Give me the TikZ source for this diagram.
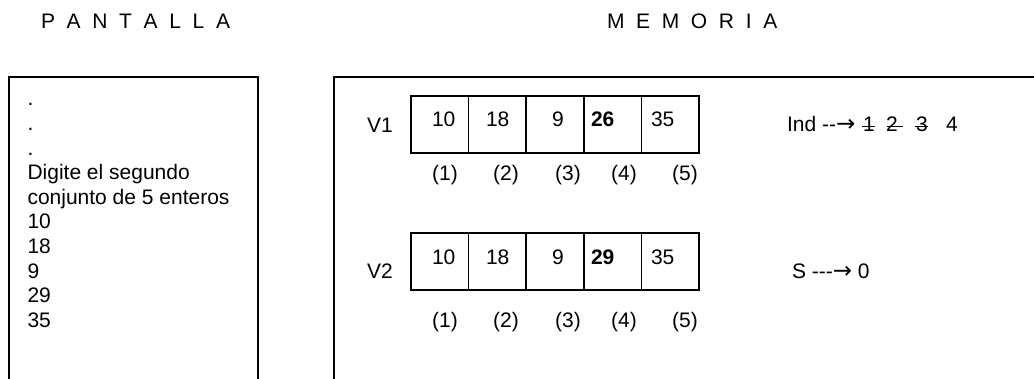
\documentclass[tikz,border=0pt]{standalone}
\usepackage{fontspec}
\newfontfamily\arial{Liberation Sans}
\newfontfamily\flechafont{DejaVu Sans}
\usepackage{tikz}
\usetikzlibrary{calc}
\newcommand{\flecha}{{\flechafont\fontsize{23}{23}\selectfont →}}

\begin{document}
\begin{tikzpicture}[
  x=1pt,y=-1pt,
  font=\arial\fontsize{21}{24.6}\selectfont,
  txt/.style={anchor=base west,inner sep=0pt,outer sep=0pt},
  idx/.style={anchor=base,inner sep=0pt},
  celda/.style={draw,line width=1.6pt,minimum width=57.6pt,minimum height=57pt,inner sep=0pt},
  marco/.style={line width=1.6pt},
  tacha/.style={line width=1.1pt}
]
\useasboundingbox (0,0) rectangle (1034,379);

% ---- titles
\node[txt] (tpan) at (41,29) {P\ \ A\ \ N\ \ T\ \ A\ \ L\ \ L\ \ A};
\node[txt] (tmem) at (607,29) {M\ \ E\ \ M\ \ O\ \ R\ \ I\ \ A};

% ---- frames
\draw[marco] (9,379) -- (9,77) -- (258,77) -- (258,379);
\draw[marco] (334,379) -- (334,77) -- (1034,77);

% ---- pantalla
\foreach \t [count=\i from 0] in {., ., ., Digite el segundo, conjunto de 5 enteros, 10, 18, 9, 29, 35}
  \node[txt] (p\i) at (27.5,{106+24.6*\i}) {\t};

% ---- memoria : vectores V1, V2
\foreach \r/\top/\lab/\vb/\base/\cuarto in {1/96/133/127/180.5/26, 2/233/279/265/327.5/29} {
  \node[txt] (v\r) at (367,\lab) {V\r};
  \foreach \i in {1,...,5}
    \node[celda] (a\r\i) at ({411+57.6*(\i-0.5)},{\top+28.5}) {};
  \foreach \x/\val [count=\i] in {432/10, 486/18, 552/9, 591/\textbf{\cuarto}, 651/35}
    \node[txt] (e\r\i) at (\x,\vb) {\val};
  \foreach \x [count=\i] in {445,506,568,624,685}
    \node[idx] (n\r\i) at (\x,\base) {(\i)};
}

% ---- Ind and S
\node[txt] (ind) at (787,132) {Ind -{}-\flecha};
\foreach \x [count=\i] in {863,886,916,946}
  \node[txt] (d\i) at (\x,132) {\i};
\foreach \i/\a/\b in {1/-1/0.5, 2/1/5, 3/-1/0.5}
  \draw[tacha] ($(d\i.base west)+(\a,-5.5)$) -- ($(d\i.base east)+(\b,-5.5)$);
\node[txt] (s) at (792,279) {S -{}-{}-\flecha\ 0};
\end{tikzpicture}
\end{document}
